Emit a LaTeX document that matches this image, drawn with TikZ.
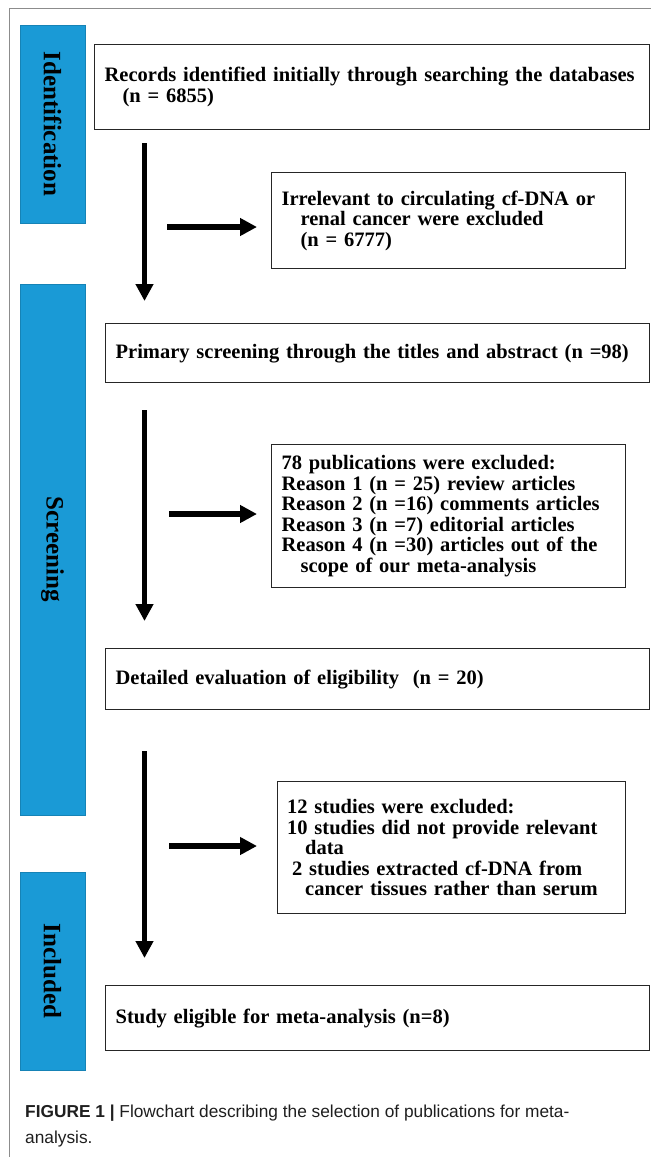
\documentclass[tikz,border=0pt]{standalone}
\usepackage{fontspec}
\setmainfont{Liberation Serif}
\newfontfamily\capfont{Liberation Sans}
\usetikzlibrary{arrows.meta}
\definecolor{stageblue}{RGB}{26,154,214}
\definecolor{framegray}{RGB}{140,140,140}
\begin{document}
\begin{tikzpicture}[x=1pt,y=-1pt,
  stagebox/.style={fill=stageblue, draw=stageblue!85!black, line width=0.6pt, inner sep=0pt,
    rotate=-90, font=\bfseries\fontsize{25}{25}\selectfont},
  flowbox/.style={draw=black!85, line width=1.3pt, anchor=north west, inner xsep=10pt,
    inner ysep=0pt, align=left, font=\bfseries\fontsize{20.5}{20.5}\selectfont},
  downarrow/.style={line width=4.7pt, -{Triangle[length=17pt,width=17pt]}},
  sidearrow/.style={line width=6.5pt, -{Triangle[length=17pt,width=17pt]}},
  captext/.style={anchor=base west, inner sep=0pt, text=black!88,
    font=\capfont\fontsize{17.3}{26}\selectfont}]
\useasboundingbox (0,0) rectangle (651,1157);
% frame
\draw[framegray, line width=1pt] (9,1157) -- (9,8.5) -- (651,8.5);
% stage labels
\node[stagebox, minimum width=198pt, minimum height=65pt] (sid) at (52.5,124) {Identification};
\node[stagebox, minimum width=531pt, minimum height=65pt] (ssc) at (52.5,549.5) {Screening};
\node[stagebox, minimum width=198pt, minimum height=65pt] (sin) at (52.5,971) {Included};
% boxes
\node[flowbox, text width=535pt, minimum height=85pt] (b1) at (94,44)
  {Records identified initially through searching the databases\\\hspace*{18pt}(n = 6855)};
\node[flowbox, text width=334pt, minimum height=96pt] (b2) at (271,172)
  {Irrelevant to circulating cf-DNA or\\\hspace*{19pt}renal cancer were excluded\\\hspace*{19pt}(n = 6777)};
\node[flowbox, text width=524pt, minimum height=59pt] (b3) at (105,323)
  {Primary screening through the titles and abstract (n =98)};
\node[flowbox, text width=334pt, minimum height=143pt] (b4) at (271,444)
  {78 publications were excluded:\\Reason 1 (n = 25) review articles\\Reason 2 (n =16) comments articles\\Reason 3 (n =7) editorial articles\\Reason 4 (n =30) articles out of the\\\hspace*{19pt}scope of our meta-analysis};
\node[flowbox, text width=524pt, minimum height=61pt] (b5) at (105,648)
  {Detailed evaluation of eligibility\ \ (n = 20)};
\node[flowbox, text width=328.5pt, minimum height=132pt] (b6) at (276.5,781)
  {12 studies were excluded:\\10 studies did not provide relevant\\\hspace*{18pt}data\\\hspace*{5pt}2 studies extracted cf-DNA from\\\hspace*{18pt}cancer tissues rather than serum};
\node[flowbox, text width=524pt, minimum height=65pt] (b7) at (105,985)
  {Study eligible for meta-analysis (n=8)};
% arrow ends
\coordinate (d1s) at (144.5,143); \coordinate (d1e) at (144.5,301);
\coordinate (d2s) at (144.5,410); \coordinate (d2e) at (144.5,621);
\coordinate (d3s) at (144.5,751); \coordinate (d3e) at (144.5,958);
\coordinate (h1s) at (167,227); \coordinate (h1e) at (257,227);
\coordinate (h2s) at (169,514); \coordinate (h2e) at (257,514);
\coordinate (h3s) at (169,846); \coordinate (h3e) at (257,846);
\draw[downarrow] (d1s) -- (d1e);
\draw[downarrow] (d2s) -- (d2e);
\draw[downarrow] (d3s) -- (d3e);
\draw[sidearrow] (h1s) -- (h1e);
\draw[sidearrow] (h2s) -- (h2e);
\draw[sidearrow] (h3s) -- (h3e);
% caption
\node[captext] (cap1) at (25,1117) {\textbf{FIGURE 1} \textbf{|} Flowchart describing the selection of publications for meta-};
\node[captext] (cap2) at (25,1143) {analysis.};
\end{tikzpicture}
\end{document}
